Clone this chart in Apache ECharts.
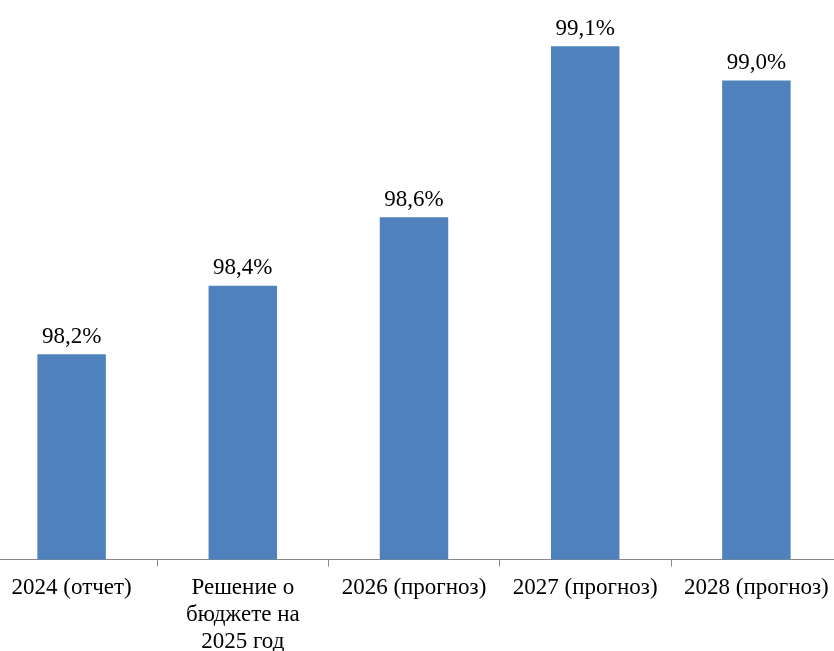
<!DOCTYPE html>
<html>
<head>
<meta charset="utf-8">
<script src="https://cdn.jsdelivr.net/npm/echarts@6/dist/echarts.min.js"></script>
<style>
html, body { margin: 0; padding: 0; background: #fff; overflow: hidden; }
#wrap { width: 834px; height: 651px; overflow: hidden; position: relative; }
/* plot area runs slightly past the picture edges, as in the original crop */
#chart { width: 856px; height: 651px; position: absolute; left: -14px; top: 0; }
</style>
</head>
<body>
<div id="wrap"><div id="chart"></div></div>
<script>
var categories = ["2024 (отчет)", "Решение о\nбюджете на\n2025 год", "2026 (прогноз)", "2027 (прогноз)", "2028 (прогноз)"];
var values = [98.2, 98.4, 98.6, 99.1, 99.0];

var chart = echarts.init(document.getElementById("chart"));
chart.setOption({
    animation: false,
    textStyle: { fontFamily: "Liberation Serif" },
    grid: { left: 0, right: 0, top: 12, bottom: 91.5, containLabel: false, outerBoundsMode: "none" },
    xAxis: {
        type: "category",
        data: categories,
        axisLine: { lineStyle: { color: "#898989", width: 1 } },
        axisTick: { show: true, length: 7, lineStyle: { color: "#898989" } },
        axisLabel: {
            color: "#000",
            fontSize: 23,
            lineHeight: 27,
            margin: 15,
            interval: 0,
            fontFamily: "Liberation Serif"
        }
    },
    yAxis: {
        type: "value",
        min: 97.6,
        max: 99.2,
        show: false,
        splitLine: { show: false }
    },
    series: [{
        type: "bar",
        data: values,
        barWidth: "40%",
        itemStyle: { color: "#4F81BD" },
        label: {
            show: true,
            position: "top",
            distance: 6,
            color: "#000",
            fontSize: 23,
            fontFamily: "Liberation Serif",
            formatter: function (p) {
                return p.value.toFixed(1).replace(".", ",") + "%";
            }
        }
    }]
});
</script>
</body>
</html>
